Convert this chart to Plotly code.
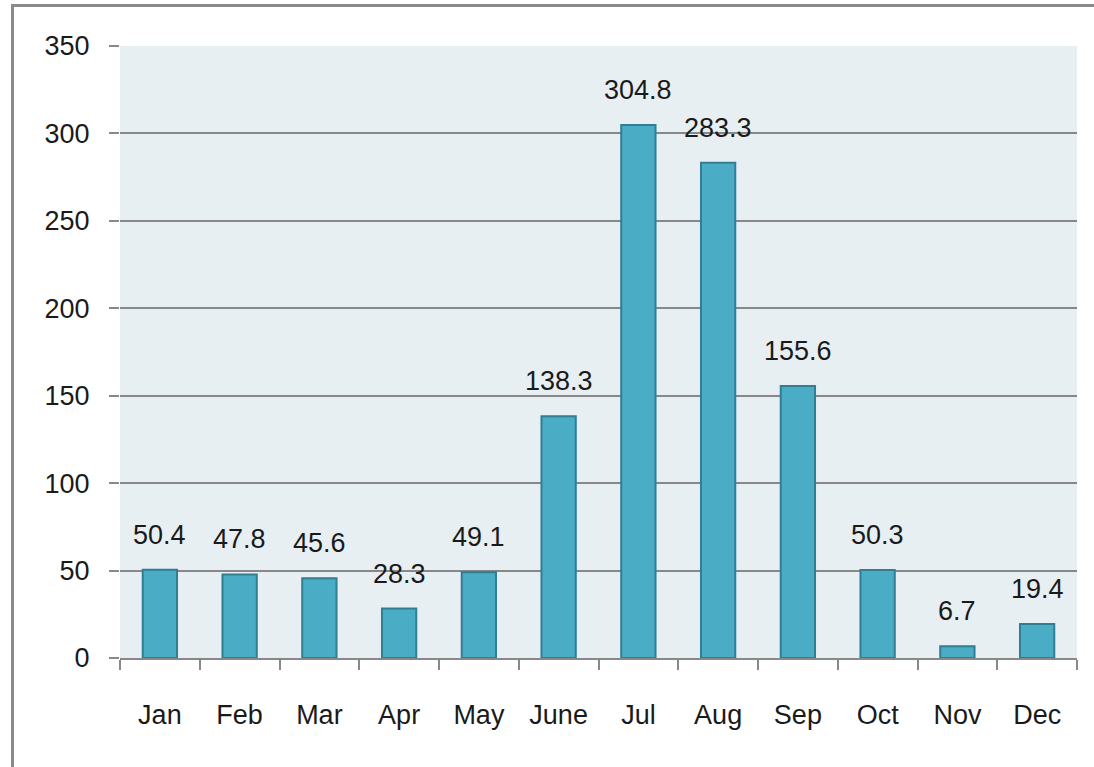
import plotly.graph_objects as go

months = ["Jan", "Feb", "Mar", "Apr", "May", "June", "Jul", "Aug", "Sep", "Oct", "Nov", "Dec"]
values = [50.4, 47.8, 45.6, 28.3, 49.1, 138.3, 304.8, 283.3, 155.6, 50.3, 6.7, 19.4]
y_ticks = [0, 50, 100, 150, 200, 250, 300, 350]

W, H = 1094, 767
L, R, T, B = 120, 17, 46, 109
pw, ph = W - L - R, H - T - B

FONT = "Liberation Sans"
FS = 27

fig = go.Figure()
fig.add_trace(go.Bar(
    x=months, y=values,
    marker=dict(color="#4BACC6", line=dict(color="#2F7E94", width=2)),
    hoverinfo="x+y",
))

for m, v in zip(months, values):
    fig.add_annotation(x=m, y=v, text=f"{v}", showarrow=False,
                       yanchor="bottom", yshift=18,
                       font=dict(family=FONT, size=FS, color="#1A1A1A"))

def px_x(p):
    return (p - L) / pw

def px_y(p):
    return (H - B - p) / ph

border = dict(color="#8A8A8A", width=3)
fig.add_shape(type="line", xref="paper", yref="paper",
              x0=px_x(12.5), x1=px_x(12.5), y0=px_y(5.5), y1=px_y(770), line=border)
fig.add_shape(type="line", xref="paper", yref="paper",
              x0=px_x(11), x1=px_x(1100), y0=px_y(5.5), y1=px_y(5.5), line=border)

fig.update_layout(
    width=W, height=H,
    margin=dict(l=L, r=R, t=T, b=B, pad=0),
    paper_bgcolor="white",
    plot_bgcolor="#E8EFF3",
    bargap=0.57,
    showlegend=False,
    font=dict(family=FONT, size=FS, color="#1A1A1A"),
)
fig.update_xaxes(
    type="category",
    showgrid=False,
    showline=True, linecolor="#888888", linewidth=2,
    ticks="outside", tickson="boundaries", ticklen=10, tickcolor="#888888", tickwidth=2,
    ticklabelstandoff=32,
    tickfont=dict(family=FONT, size=FS, color="#1A1A1A"),
)
fig.update_yaxes(
    range=[0, 350],
    tickvals=y_ticks,
    showgrid=True, gridcolor="#888888", gridwidth=2,
    zeroline=False,
    showline=False,
    ticks="outside", ticklen=10, tickcolor="#888888", tickwidth=2,
    ticklabelstandoff=14,
    tickfont=dict(family=FONT, size=FS, color="#1A1A1A"),
)

fig.write_html("out.html", config={"displayModeBar": False},
               post_script="document.body.style.margin='0';document.body.style.overflow='hidden';")
